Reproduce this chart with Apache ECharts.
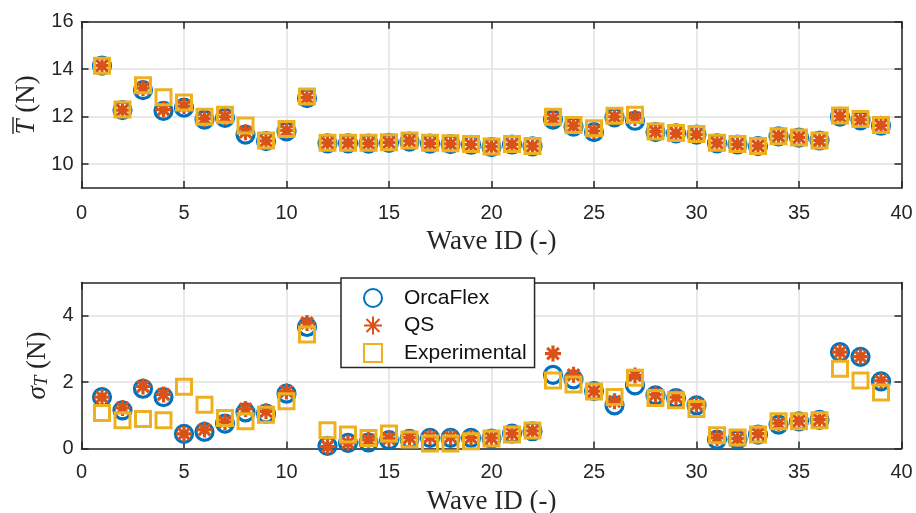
<!DOCTYPE html>
<html>
<head>
<meta charset="utf-8">
<script src="https://cdn.jsdelivr.net/npm/echarts@6/dist/echarts.min.js"></script>
<style>
html,body{margin:0;padding:0;background:#fff;}
#chart{width:916px;height:513px;}
</style>
</head>
<body>
<div id="chart"></div>
<script>
// ---- data ----
const waveIds = [1,2,3,4,5,6,7,8,9,10,11,12,13,14,15,16,17,18,19,20,21,22,23,24,25,26,27,28,29,30,31,32,33,34,35,36,37,38,39];

const orcaMean = [14.15,12.28,13.12,12.25,12.38,11.88,11.95,11.25,10.97,11.38,12.78,10.88,10.88,10.87,10.90,10.95,10.87,10.85,10.82,10.72,10.83,10.75,11.88,11.58,11.35,11.97,11.83,11.35,11.30,11.25,10.88,10.83,10.76,11.17,11.12,11.00,12.00,11.85,11.62];
const qsMean   = [14.15,12.28,13.20,12.30,12.45,11.92,12.00,11.35,10.98,11.42,12.80,10.90,10.90,10.88,10.92,10.98,10.88,10.86,10.83,10.74,10.84,10.76,11.92,11.62,11.40,12.00,11.95,11.37,11.30,11.26,10.90,10.84,10.77,11.18,11.13,11.00,12.02,11.87,11.64];
const expMean  = [14.15,12.30,13.33,12.82,12.60,12.00,12.08,11.63,11.00,11.48,12.85,10.90,10.90,10.90,10.93,11.00,10.90,10.88,10.85,10.75,10.85,10.77,12.00,11.65,11.52,12.04,12.08,11.38,11.32,11.27,10.90,10.85,10.77,11.18,11.13,11.00,12.05,11.90,11.65];

const orcaStd = [1.55,1.15,1.80,1.55,0.44,0.50,0.75,1.09,1.05,1.65,3.66,0.08,0.17,0.18,0.25,0.29,0.32,0.32,0.32,0.30,0.45,0.52,2.22,2.08,1.73,1.30,1.90,1.60,1.52,1.30,0.27,0.27,0.42,0.72,0.82,0.86,2.90,2.76,2.02];
const qsStd   = [1.55,1.22,1.87,1.63,0.44,0.57,0.80,1.19,1.12,1.72,3.78,0.06,0.17,0.26,0.30,0.33,0.35,0.35,0.33,0.32,0.45,0.53,2.86,2.22,1.73,1.42,2.20,1.62,1.55,1.32,0.32,0.30,0.45,0.76,0.83,0.87,2.90,2.77,2.04];
const expStd  = [1.07,0.85,0.89,0.85,1.86,1.32,0.92,0.82,1.02,1.42,3.43,0.55,0.42,0.32,0.45,0.27,0.15,0.15,0.22,0.30,0.42,0.54,2.05,1.93,1.72,1.55,2.13,1.52,1.45,1.19,0.40,0.33,0.42,0.82,0.82,0.85,2.40,2.05,1.69];

const seriesNames = ['OrcaFlex','QS','Experimental'];
const xTicks = [0,5,10,15,20,25,30,35,40];
const topYTicks = [10,12,14,16];
const botYTicks = [0,2,4];
const xTitle = 'Wave ID (-)';

// ---- styles ----
const BLUE = '#0072BD', ORANGE = '#D95319', YELLOW = '#EDB120';
const AX = '#262626', GRID = '#e1e1e1';
const SANS = 'Liberation Sans, Arial, Helvetica, sans-serif';
const SERIF = 'Liberation Serif, Times New Roman, serif';
const TITLE_FS = 27;
const ASTER = 'path://M0,-1L0,1M-1,0L1,0M-0.72,-0.72L0.72,0.72M-0.72,0.72L0.72,-0.72';
const SQUARE = 'path://M-1,-1L1,-1L1,1L-1,1Z';

const pairs = (ys) => waveIds.map((x, i) => [x, ys[i]]);

const G0 = {left: 81.5, right: 14.5, top: 21.7, height: 166.3};
const G1 = {left: 81.5, right: 14.5, top: 282.5, height: 166};

function xAx(gi, pos, main) {
  return {
    type: 'value', gridIndex: gi, position: pos, min: xTicks[0], max: xTicks[xTicks.length - 1], interval: 5,
    axisLine: {show: true, onZero: false, lineStyle: {color: AX, width: 1.5}},
    axisTick: {show: true, inside: true, length: 7, lineStyle: {color: AX, width: 1.5}},
    axisLabel: {show: main, margin: gi === 0 ? 15 : 13.5, fontFamily: SANS, fontSize: 20, color: AX},
    splitLine: {show: main, lineStyle: {color: GRID, width: 1.5}},
    name: main ? xTitle : '', nameLocation: 'middle', nameGap: gi === 0 ? 40 : 39.5,
    nameTextStyle: {fontFamily: SERIF, fontSize: TITLE_FS, color: AX}
  };
}
function yAx(gi, pos, main, min, max, ticks, name, gap, rich) {
  return {
    type: 'value', gridIndex: gi, position: pos, min: min, max: max,
    axisLine: {show: true, onZero: false, lineStyle: {color: AX, width: 1.5}},
    axisTick: {show: true, inside: true, length: 7, customValues: ticks, lineStyle: {color: AX, width: 1.5}},
    axisLabel: {show: main, margin: 8, customValues: ticks, fontFamily: SANS, fontSize: 20, color: AX},
    splitLine: {show: main, lineStyle: {color: GRID, width: 1.5}},
    name: main ? name : '', nameLocation: 'middle', nameGap: gap,
    nameTextStyle: {fontFamily: SERIF, fontSize: TITLE_FS, color: AX, rich: rich}
  };
}

const richT = {
  i: {fontFamily: SERIF, fontSize: TITLE_FS, fontStyle: 'italic', color: AX, lineHeight: 27, verticalAlign: 'top'},
  r: {fontFamily: SERIF, fontSize: TITLE_FS, color: AX, lineHeight: 27, verticalAlign: 'top'},
  s: {fontFamily: SERIF, fontSize: 19, fontStyle: 'italic', color: AX, lineHeight: 14, verticalAlign: 'bottom'}
};

function mk(name, gi, data, sym, size, color, bw) {
  return {
    name: name, type: 'scatter', xAxisIndex: gi * 2, yAxisIndex: gi * 2,
    data: data, symbol: sym, symbolSize: size,
    itemStyle: {color: sym === ASTER ? color : 'rgba(0,0,0,0)', borderColor: color, borderWidth: bw, opacity: 1},
    emphasis: {disabled: true}, animation: false
  };
}

const option = {
  backgroundColor: '#fff',
  animation: false,
  grid: [
    Object.assign({show: false, containLabel: false, outerBoundsMode: 'none'}, G0),
    Object.assign({show: false, containLabel: false, outerBoundsMode: 'none'}, G1)
  ],
  xAxis: [xAx(0, 'bottom', true), xAx(0, 'top', false), xAx(1, 'bottom', true), xAx(1, 'top', false)],
  yAxis: [
    yAx(0, 'left', true, 9, 16, topYTicks, '{i|T}{r| (N)}', 38, richT),
    yAx(0, 'right', false, 9, 16, topYTicks, '', 0, richT),
    yAx(1, 'left', true, 0, 5, botYTicks, '{i|\u03C3}{s|T}{r| (N)}', 19, richT),
    yAx(1, 'right', false, 0, 5, botYTicks, '', 0, richT)
  ],
  legend: {
    left: 341, top: 278, orient: 'vertical',
    padding: [9.5, 8, 4, 22], itemGap: 6.5, itemWidth: 52, itemHeight: 18,
    backgroundColor: '#fff', borderColor: AX, borderWidth: 1.5, borderRadius: 0,
    textStyle: {fontFamily: SANS, fontSize: 21, color: '#111'},
    selectedMode: false,
    data: [
      {name: seriesNames[0], icon: 'circle'},
      {name: seriesNames[1], icon: ASTER},
      {name: seriesNames[2], icon: SQUARE}
    ]
  },
  // overbar of the mean-tension symbol (T with bar) in the top y-axis title
  graphic: [
    {type: 'line', silent: true, shape: {x1: 13, y1: 117, x2: 13, y2: 134}, style: {stroke: AX, lineWidth: 1.4}}
  ],
  series: [
    mk(seriesNames[0], 0, pairs(orcaMean), 'circle', 17, BLUE, 3.2),
    mk(seriesNames[1], 0, pairs(qsMean), ASTER, 16, ORANGE, 3.2),
    mk(seriesNames[2], 0, pairs(expMean), SQUARE, 15, YELLOW, 3),
    mk(seriesNames[0], 1, pairs(orcaStd), 'circle', 17, BLUE, 3.2),
    mk(seriesNames[1], 1, pairs(qsStd), ASTER, 16, ORANGE, 3.2),
    mk(seriesNames[2], 1, pairs(expStd), SQUARE, 15, YELLOW, 3)
  ]
};

const chart = echarts.init(document.getElementById('chart'), null, {renderer: 'canvas'});
chart.setOption(option);
</script>
</body>
</html>
